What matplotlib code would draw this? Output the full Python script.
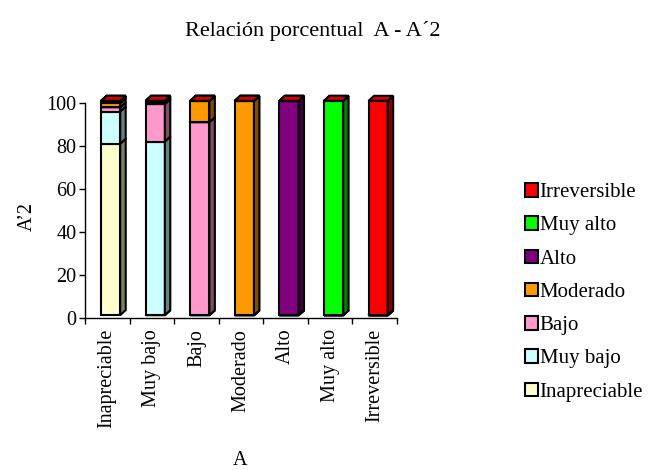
import numpy as np
import matplotlib.pyplot as plt
from matplotlib.patches import Rectangle, Polygon, Patch
from matplotlib.colors import to_rgb

plt.rcParams['font.family'] = ['Liberation Serif', 'DejaVu Serif']

# categories on the A axis and the stacked series (percent of A'2)
categories = ["Inapreciable", "Muy bajo", "Bajo", "Moderado", "Alto", "Muy alto", "Irreversible"]
series = ["Inapreciable", "Muy bajo", "Bajo", "Moderado", "Alto", "Muy alto", "Irreversible"]
inapreciable = [80, 0, 0, 0, 0, 0, 0]
muy_bajo = [15, 81, 0, 0, 0, 0, 0]
bajo = [2, 17.5, 90, 0, 0, 0, 0]
moderado = [2, 1, 10, 100, 0, 0, 0]
alto = [1, 0.5, 0, 0, 100, 0, 0]
muy_alto = [0, 0, 0, 0, 0, 100, 0]
irreversible = [0, 0, 0, 0, 0, 0, 100]
colors = ["#FFFFCC", "#CCFFFF", "#FF99CC", "#FF9900", "#800080", "#00FF00", "#FF0000"]

values = np.array([inapreciable, muy_bajo, bajo, moderado, alto, muy_alto, irreversible])

fig = plt.figure(figsize=(6.51, 4.70), dpi=100)
ax = fig.add_axes([0.1306, 0.324, 0.4793, 0.456])

# pseudo-3D column geometry (data units)
bar_w = 0.43
bar_left = 0.36
dx, dy = 0.123, 2.33
base = 1.2


def shade(c, f):
    return tuple(min(1, v * f) for v in to_rgb(c))


for i in range(len(categories)):
    bottom = base
    x0 = i + bar_left
    for s in range(len(series)):
        h = values[s, i]
        c = colors[s]
        kw = dict(edgecolor="black", linewidth=1.5, clip_on=False, joinstyle="miter")
        ax.add_patch(Rectangle((x0, bottom), bar_w, h, facecolor=c, **kw))
        ax.add_patch(Polygon([(x0 + bar_w, bottom), (x0 + bar_w + dx, bottom + dy),
                              (x0 + bar_w + dx, bottom + h + dy), (x0 + bar_w, bottom + h)],
                             closed=True, facecolor=shade(c, 0.5), **kw))
        ax.add_patch(Polygon([(x0, bottom + h), (x0 + dx, bottom + h + dy),
                              (x0 + bar_w + dx, bottom + h + dy), (x0 + bar_w, bottom + h)],
                             closed=True, facecolor=shade(c, 0.85), **kw))
        bottom += h

ax.set_xlim(0, len(categories))
ax.set_ylim(0, 100)

ax.spines["top"].set_visible(False)
ax.spines["right"].set_visible(False)
ax.spines["left"].set_linewidth(1.0)
ax.spines["bottom"].set_linewidth(1.0)

ax.set_yticks(range(0, 101, 20))
ax.tick_params(axis="y", direction="out", length=4, width=1, labelsize=14.5, pad=2)
ax.set_xticks(np.arange(len(categories)) + 0.5)
ax.set_xticklabels(categories, rotation=90, fontsize=14.5)
ax.set_xticks(np.arange(len(categories) + 1), minor=True)
ax.tick_params(axis="x", which="major", length=0, pad=8)
ax.tick_params(axis="x", which="minor", direction="out", length=4, width=1)

fig.text(0.48, 0.935, "Relación porcentual  A - A´2", ha="center", va="center", fontsize=16)
fig.text(0.042, 0.54, "A’2", rotation=90, ha="center", va="center", fontsize=14.5)
fig.text(0.369, 0.02, "A", ha="center", va="center", fontsize=14.5)

handles = [Patch(facecolor=colors[s], edgecolor="black", linewidth=1.5) for s in range(len(series))]
leg = fig.legend(handles[::-1], series[::-1], loc="center left", bbox_to_anchor=(0.806, 0.378),
                 frameon=False, fontsize=15, handlelength=0.62, handleheight=0.62,
                 handletextpad=0.1, labelspacing=0.68, borderpad=0, borderaxespad=0)

fig.savefig("out.png", dpi=100)
